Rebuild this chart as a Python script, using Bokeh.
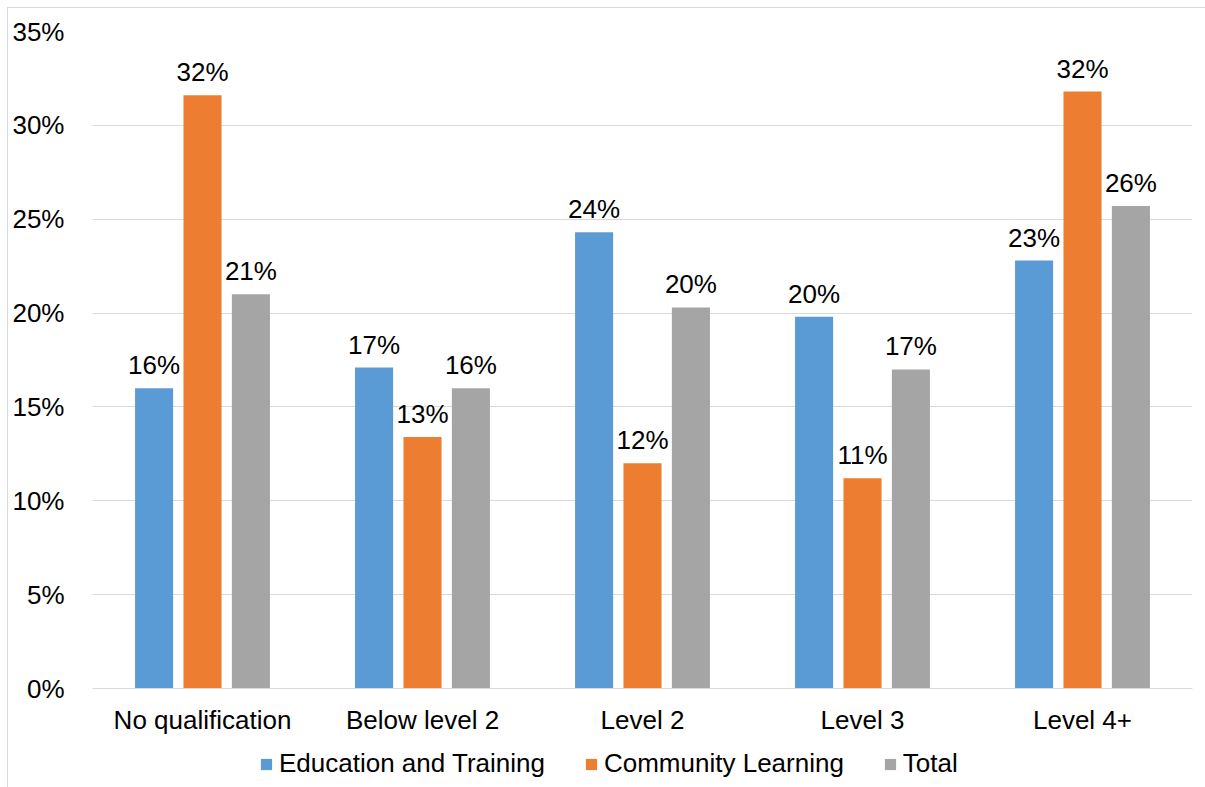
from bokeh.plotting import figure
from bokeh.models import (ColumnDataSource, FactorRange, Range1d, FixedTicker,
                          NumeralTickFormatter, Legend, LegendItem)
from bokeh.transform import dodge
from bokeh.core.properties import value
from bokeh.embed import file_html
from bokeh.resources import INLINE

categories = ["No qualification", "Below level 2", "Level 2", "Level 3", "Level 4+"]
education_training = [0.160, 0.171, 0.243, 0.198, 0.228]
community_learning = [0.316, 0.134, 0.120, 0.112, 0.318]
total = [0.210, 0.160, 0.203, 0.170, 0.257]
series_names = ["Education and Training", "Community Learning", "Total"]
series_colors = ["#5B9BD5", "#ED7D31", "#A5A5A5"]
y_ticks = [0, 0.05, 0.10, 0.15, 0.20, 0.25, 0.30, 0.35]

FONT = "Liberation Sans"
FS = "26px"

def pct(vals):
    return [f"{round(v * 100)}%" for v in vals]

src = ColumnDataSource(data=dict(
    cat=categories,
    et=education_training, cl=community_learning, tot=total,
    et_l=pct(education_training), cl_l=pct(community_learning), tot_l=pct(total),
))

# the frame extends below 0% so that the category labels and legend sit inside it;
# the x axis is pinned at y = 0
p = figure(x_range=FactorRange(*categories, range_padding=0),
           y_range=Range1d(-0.0527, 0.35),
           frame_width=1100, frame_height=756,
           output_backend="svg", toolbar_location=None,
           min_border_left=84, min_border_top=23, min_border_right=13, min_border_bottom=0)
p.styles = {"margin-left": "7px", "margin-top": "7px",
            "border-left": "1px solid #d9d9d9", "border-top": "1px solid #d9d9d9"}

p.outline_line_color = None
p.background_fill_color = "white"
p.border_fill_color = "white"

cols = ["et", "cl", "tot"]
labs = ["et_l", "cl_l", "tot_l"]
offsets = [-0.22, 0.0, 0.22]
renderers = []
for c, l, off, color in zip(cols, labs, offsets, series_colors):
    r = p.vbar(x=dodge("cat", off, range=p.x_range), top=c, bottom=0, width=0.173,
               source=src, fill_color=color, line_color=None)
    renderers.append(r)
    p.text(x=dodge("cat", off, range=p.x_range), y=c, text=l, source=src,
           text_align="center", text_baseline="alphabetic", y_offset=-23,
           text_font=value(FONT), text_font_size=FS, text_color="#000000")

# axes
p.yaxis.ticker = FixedTicker(ticks=y_ticks)
p.yaxis.formatter = NumeralTickFormatter(format="0%")
p.yaxis.axis_line_color = None
p.yaxis.major_tick_line_color = None
p.yaxis.minor_tick_line_color = None
p.yaxis.major_label_standoff = 22
p.yaxis.major_label_text_font = FONT
p.yaxis.major_label_text_font_size = FS
p.yaxis.major_label_text_color = "#000000"

p.xaxis.fixed_location = 0
p.xaxis.axis_line_color = "#d9d9d9"
p.xaxis.axis_line_width = 1
p.xaxis.major_tick_line_color = None
p.xaxis.minor_tick_line_color = None
p.xaxis.major_label_standoff = 10
p.xaxis.major_label_text_font = FONT
p.xaxis.major_label_text_font_size = FS
p.xaxis.major_label_text_color = "#000000"

p.xgrid.grid_line_color = None
p.ygrid.grid_line_color = "#d9d9d9"
p.ygrid.grid_line_width = 1

items = [LegendItem(label=n, renderers=[r]) for n, r in zip(series_names, renderers)]
legend = Legend(items=items,
                orientation="horizontal", location=(167, 8),
                glyph_width=14, glyph_height=14, label_standoff=6, spacing=39,
                padding=0, margin=0,
                label_text_font=FONT, label_text_font_size=FS, label_text_color="#000000",
                border_line_color=None, background_fill_alpha=0)
p.add_layout(legend, "center")

open("out.html", "w").write(file_html(p, INLINE))
